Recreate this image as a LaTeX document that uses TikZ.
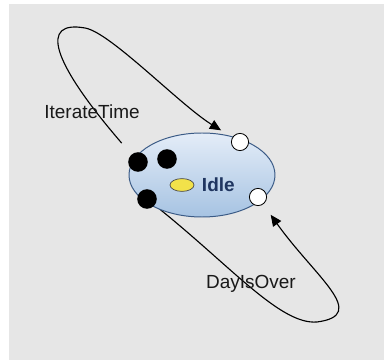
\documentclass[tikz,border=0pt]{standalone}
\usepackage{fontspec}
\setmainfont{Liberation Sans}
\usetikzlibrary{arrows.meta}
\usetikzlibrary{positioning}
\usetikzlibrary{backgrounds}
\usetikzlibrary{shapes.geometric}

\definecolor{panel}{HTML}{E6E6E6}
\definecolor{stateedge}{HTML}{3B5B86}
\definecolor{statetop}{HTML}{E4EDF8}
\definecolor{statebot}{HTML}{A6C3E2}
\definecolor{statetext}{HTML}{1F3560}
\definecolor{marker}{HTML}{F2E24A}

\begin{document}
\begin{tikzpicture}[auto, thick,
			state/.style={ellipse,draw=stateedge,line width=0.7pt,top color=statetop,bottom color=statebot,
				minimum width=3.65cm,minimum height=2.1cm,inner sep=0pt},
			inport/.style={circle,fill=black,draw=black,minimum size=0.46cm,inner sep=0pt},
			outport/.style={circle,fill=white,draw=black,line width=0.6pt,minimum size=0.43cm,inner sep=0pt},
			trans/.style={line width=0.8pt,-{Triangle[length=8pt,width=7pt]}},
			lbl/.style={font=\fontsize{13.5}{15}\selectfont,text=black!90}]
			
			\useasboundingbox (0,0) rectangle (9.6,9);
			
			\node[state] (idle) at (5.05,4.625) {};
			\node[ellipse,draw=black!70,line width=0.5pt,fill=marker,minimum width=0.6cm,minimum height=0.32cm,inner sep=0pt] (mark) at (4.55,4.375) {};
			\node[font=\bfseries\fontsize{13.5}{15}\selectfont,text=statetext,right=0.06cm of mark] (name) {Idle};
			
			\node[inport] (bk1) at (3.45,4.95) {};
			\node[inport] (bk2) at (4.175,5.025) {};
			\node[inport] (bk3) at (3.675,4.025) {};
			\node[outport] (wt1) at (6.0,5.45) {};
			\node[outport] (wt2) at (6.45,4.075) {};
			
			\node[lbl] (it) at (2.3,6.2) {IterateTime};
			\node[lbl] (di) at (6.275,1.9) {DayIsOver};
			
			\begin{pgfonlayer}{background}
			\fill[panel] (0.225,0) rectangle (9.6,8.9);
			% the two self loops
			\draw[trans,shorten <=0.38cm,shorten >=0.33cm] (bk1) .. controls (1.25,7.5) and (1.0,8.5) .. (2.125,8.3)
				.. controls (2.75,8.2) and (4.5,6.375) .. (wt1);
			\draw[trans,shorten >=0.32cm] (bk3) .. controls (5.75,2.375) and (7.0,0.875) .. (7.925,0.95)
				.. controls (9.25,1.125) and (7.875,2.075) .. (wt2);
			\end{pgfonlayer}
			\end{tikzpicture}
\end{document}
